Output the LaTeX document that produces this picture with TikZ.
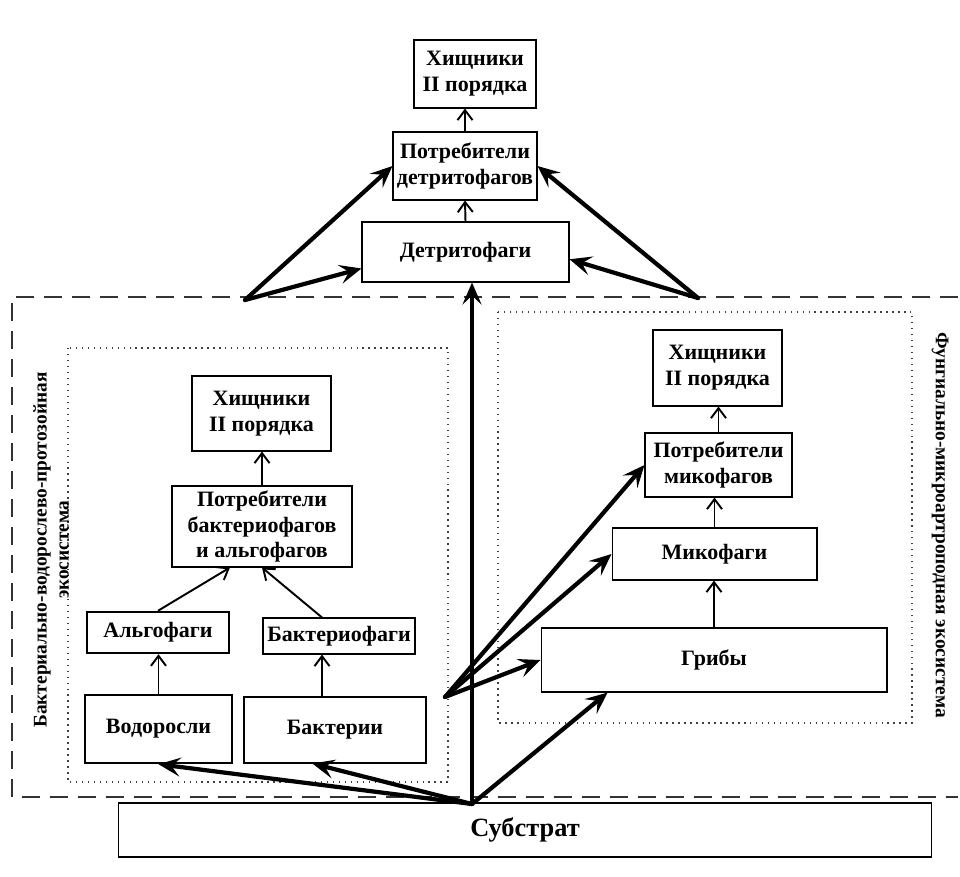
\documentclass[tikz,border=0pt]{standalone}
\usepackage{fontspec}
\setmainfont{Liberation Serif}
\usetikzlibrary{arrows.meta}

\tikzset{
  blk/.style={draw, line width=0.6pt, align=center, inner sep=1pt, font=\fontsize{12.5}{14.7}\selectfont\bfseries},
  heavyblk/.style={blk, line width=1.4pt},
  fat/.style={-{Stealth[length=4.4mm,width=3.8mm,inset=1.8mm]}, line width=2.4pt, line cap=round},
  lean/.style={-{Straight Barb[length=2mm,width=3mm]}, line width=1.1pt},
  frame/.style={line width=0.8pt, black!80, dash pattern=on 0.36cm off 0.2cm},
  dots/.style={line width=0.7pt, black!75, dash pattern=on 0.8pt off 2.6pt},
}

\begin{document}
\begin{tikzpicture}[x=0.02cm, y=-0.02cm]
	\useasboundingbox (0,0) rectangle (960,876);

	% frames of the two ecosystems
	\draw[frame] (958,297) -- (12,297) -- (12,797) -- (958,797);
	\draw[dots] (68,348) rectangle (448,782);
	\draw[dots] (498,312) rectangle (912,723);

	\node[rotate=90, align=center, font=\fontsize{11}{12.5}\selectfont\bfseries] (lblL) at (51,550) {Бактериально-водорослево-протозойная\\экосистема};
	\node[rotate=-90, font=\fontsize{11}{12.5}\selectfont\bfseries] (lblR) at (940,525) {Фунгиально-микроартроподная экосистема};

	% upper chain
	\node[blk, minimum width=2.44cm, minimum height=1.36cm] (predT) at (475,74) {Хищники\\II порядка};
	\node[blk, minimum width=2.88cm, minimum height=1.36cm] (consdet) at (465,166) {Потребители\\детритофагов};
	\node[blk, minimum width=4.14cm, minimum height=1.2cm] (detr) at (465.5,252) {Детритофаги};

	% left ecosystem
	\node[blk, minimum width=2.78cm, minimum height=1.5cm] (predL) at (261.5,413.5) {Хищники\\II порядка};
	\node[blk, minimum width=3.6cm, minimum height=1.62cm] (consba) at (262,526.5) {Потребители\\бактериофагов\\и альгофагов};
	\node[heavyblk, minimum width=2.84cm, minimum height=0.82cm] (algph) at (158,632.5) {Альгофаги};
	\node[blk, minimum width=3.04cm, minimum height=0.72cm] (bactph) at (339,636) {Бактериофаги};
	\node[heavyblk, minimum width=2.94cm, minimum height=1.36cm] (alg) at (158.5,729) {Водоросли};
	\node[blk, minimum width=3.64cm, minimum height=1.32cm] (bact) at (335,730) {Бактерии};

	% right ecosystem
	\node[blk, minimum width=2.58cm, minimum height=1.52cm] (predR) at (717.5,368) {Хищники\\II порядка};
	\node[blk, minimum width=2.94cm, minimum height=1.28cm] (consmyc) at (718.5,465) {Потребители\\микофагов};
	\node[blk, minimum width=4.1cm, minimum height=1.04cm] (myco) at (714.5,554) {Микофаги};
	\node[blk, minimum width=6.92cm, minimum height=1.28cm] (fungi) at (714,660) {Грибы};

	\node[blk, minimum width=16.28cm, minimum height=1.08cm, font=\fontsize{15}{18}\selectfont\bfseries] (subst) at (525,830) {Субстрат};

	\coordinate (lfork) at (245,300);
	\coordinate (rfork) at (698,298);
	\coordinate (mfork) at (445,697);
	\coordinate (src) at (472,804);

	% thin links
	\draw[lean] (detr.north) -- (consdet.south);
	\draw[lean] (consdet.north) -- (consdet.north |- predT.south);
	\draw[lean] (alg.north) -- (alg.north |- algph.south);
	\draw[lean] ([xshift=-0.34cm]bactph.south |- bact.north) -- ([xshift=-0.34cm]bactph.south);
	\draw[lean] (algph.north) -- (consba.232);
	\draw[lean] ([xshift=-0.34cm]bactph.north) -- (consba.south);
	\draw[lean] (consba.north) -- (consba.north |- predL.south);
	\draw[lean] (fungi.north) -- (fungi.north |- myco.south);
	\draw[lean] (myco.north) -- (myco.north |- consmyc.south);
	\draw[lean] (consmyc.north) -- (consmyc.north |- predR.south);

	% thick links
	\draw[fat] (lfork) -- (consdet.west);
	\draw[fat] (lfork) -- (detr.189);
	\draw[fat] (rfork) -- (consdet.east);
	\draw[fat] (rfork) -- (detr.-4);
	\draw[fat] (src) -- (src |- detr.south);
	\draw[fat] (src) -- (alg.south);
	\draw[fat] (src) -- (bact.236);
	\draw[fat] (src) -- (fungi.197);
	\draw[fat] (mfork) -- (fungi.west);
	\draw[fat] (mfork) -- (myco.west);
	\draw[fat] (mfork) -- (consmyc.west);
\end{tikzpicture}
\end{document}
